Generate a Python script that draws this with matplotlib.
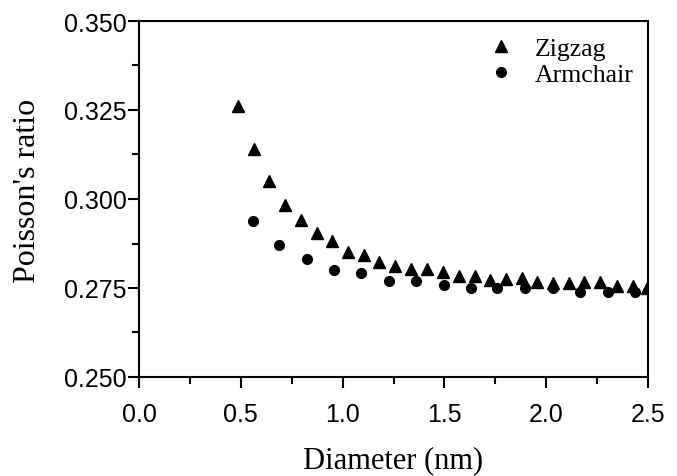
import matplotlib
matplotlib.use("Agg")
import matplotlib.pyplot as plt
from matplotlib.ticker import MultipleLocator, FormatStrFormatter

zigzag_d = [0.487, 0.565, 0.640, 0.717, 0.794, 0.873, 0.948, 1.027, 1.104, 1.179, 1.257,
            1.335, 1.413, 1.491, 1.572, 1.650, 1.724, 1.803, 1.880, 1.953, 2.032, 2.110,
            2.186, 2.264, 2.346, 2.428, 2.494]
zigzag_v = [0.3260, 0.3140, 0.3051, 0.2983, 0.2942, 0.2904, 0.2883, 0.2852, 0.2844, 0.2823, 0.2813,
            0.2803, 0.2803, 0.2794, 0.2783, 0.2785, 0.2773, 0.2775, 0.2777, 0.2766, 0.2764, 0.2764,
            0.2766, 0.2766, 0.2755, 0.2757, 0.2749]
armchair_d = [0.558, 0.689, 0.825, 0.958, 1.092, 1.226, 1.362, 1.498, 1.629, 1.760, 1.896,
              2.032, 2.166, 2.302, 2.436]
armchair_v = [0.2939, 0.2871, 0.2831, 0.2801, 0.2791, 0.2771, 0.2771, 0.2759, 0.2750, 0.2750, 0.2750,
              0.2750, 0.2740, 0.2740, 0.2740]

plt.rcParams['font.family'] = 'Liberation Sans'

fig = plt.figure(figsize=(6.77, 4.77), dpi=100)
ax = fig.add_axes([139/677, 1-378/477, (648-139)/677, (378-22)/477])

ax.plot(zigzag_d, zigzag_v, linestyle='none', marker='^', color='black', markersize=8.5, label='Zigzag')
ax.plot(armchair_d, armchair_v, linestyle='none', marker='o', color='black', markersize=7, label='Armchair')

ax.set_xlim(0, 2.5)
ax.set_ylim(0.25, 0.35)
ax.xaxis.set_major_locator(MultipleLocator(0.5))
ax.xaxis.set_minor_locator(MultipleLocator(0.25))
ax.yaxis.set_major_locator(MultipleLocator(0.025))
ax.yaxis.set_minor_locator(MultipleLocator(0.0125))
ax.xaxis.set_major_formatter(FormatStrFormatter('%.1f'))
ax.yaxis.set_major_formatter(FormatStrFormatter('%.3f'))

for s in ax.spines.values():
    s.set_linewidth(1.5)
ax.tick_params(which='major', direction='out', length=8, width=1.5, labelsize=18)
ax.tick_params(which='minor', direction='out', length=5, width=1.5)
ax.tick_params(axis='x', which='major', pad=10)
ax.tick_params(axis='y', which='major', pad=1)
ax.tick_params(top=False, right=False)

ax.set_xlabel('Diameter (nm)', fontfamily='Liberation Serif', fontsize=22, labelpad=14)
ax.set_ylabel("Poisson's ratio", fontfamily='Liberation Serif', fontsize=23)
ax.yaxis.set_label_coords(-0.19, 0.525)

leg = ax.legend(loc='upper right', bbox_to_anchor=(1 - 4/509, 1 - 6/356), borderaxespad=0,
                frameon=False, prop={'family': 'Liberation Serif', 'size': 18.5},
                handletextpad=0.75, labelspacing=0.12, handlelength=1.1)

fig.savefig('out.png', dpi=100)
